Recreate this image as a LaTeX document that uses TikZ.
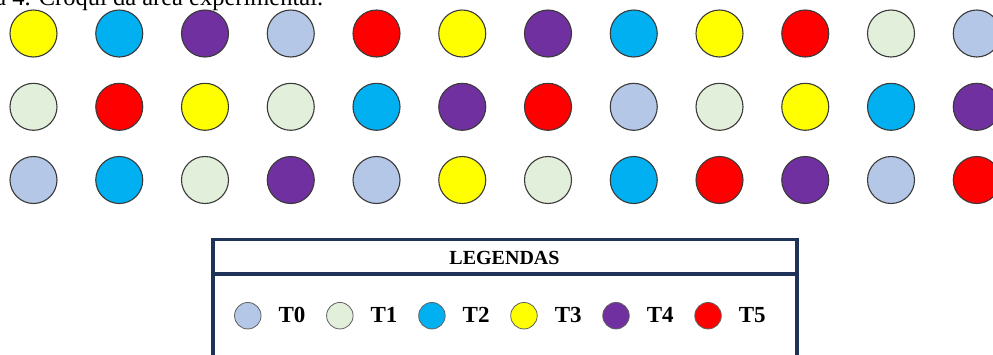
\documentclass[tikz,border=0pt]{standalone}
\usepackage{fontspec}
\setmainfont{Liberation Serif}
\definecolor{cT0}{HTML}{B4C7E7}
\definecolor{cT1}{HTML}{E2EFDA}
\definecolor{cT2}{HTML}{00B0F0}
\definecolor{cT3}{HTML}{FFFF00}
\definecolor{cT4}{HTML}{7030A0}
\definecolor{cT5}{HTML}{FF0000}
\definecolor{plotedge}{HTML}{3A3A3A}
\definecolor{navy}{HTML}{1F3358}
\begin{document}
\begin{tikzpicture}[x=1pt,y=-1pt,
  plotdot/.style={circle,draw=plotedge,line width=1.1pt,minimum size=47pt,inner sep=0pt},
  legdot/.style={circle,draw=plotedge!80,line width=0.8pt,minimum size=26.5pt,inner sep=0pt},
  legline/.style={draw=navy,line width=3.8pt},
  legtxt/.style={anchor=base west,font=\fontsize{23}{23}\selectfont\bfseries,inner sep=0pt}]
\clip (0,0) rectangle (993,354);
\fill[white] (0,0) rectangle (993,354);
\node[anchor=base west,inner sep=0pt,font=\fontsize{24.5}{24.5}\selectfont] (cap) at (-58,5) {Figura 4. Croqui da área experimental.};
% row 1
\foreach \t [count=\i from 0] in {3,2,4,0,5,3,4,2,3,5,1,0}
  \node[plotdot,fill=cT\t] (a\i) at ({33.5+85.75*\i},33.5) {};
% row 2
\foreach \t [count=\i from 0] in {1,5,3,1,2,4,5,0,1,3,2,4}
  \node[plotdot,fill=cT\t] (b\i) at ({33.5+85.75*\i},106.8) {};
% row 3
\foreach \t [count=\i from 0] in {0,2,1,4,0,3,1,2,5,4,0,5}
  \node[plotdot,fill=cT\t] (c\i) at ({33.5+85.75*\i},180) {};
% legend box
\path[legline] (213,239.5) rectangle (797,372);
\path[legline] (213,274) -- (797,274);
\node[anchor=base,inner sep=0pt,font=\fontsize{20}{20}\selectfont\bfseries] (legtitle) at (504.5,264.3) {LEGENDAS};
\foreach \t in {0,...,5}{
  \node[legdot,fill=cT\t] (k\t) at ({247.8+92.05*\t},315.7) {};
  \node[legtxt] (kl\t) at ({278.4+92.05*\t},322.7) {T\t};
}
\end{tikzpicture}
\end{document}
